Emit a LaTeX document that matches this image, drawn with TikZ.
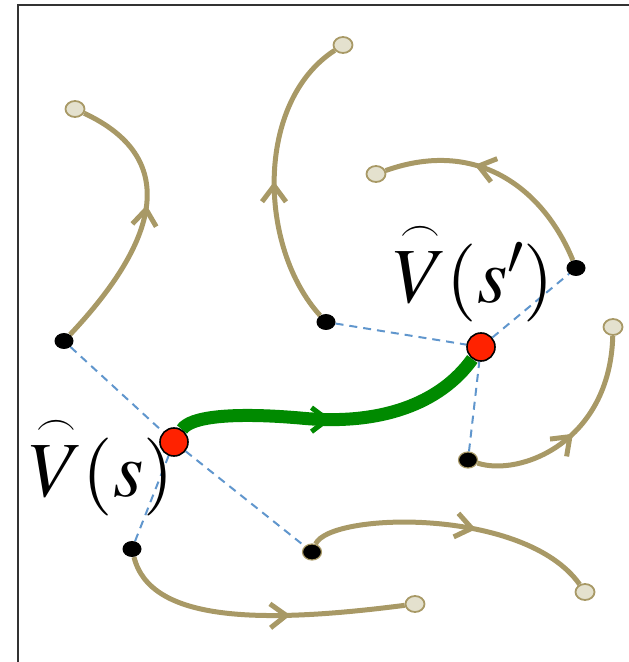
\documentclass[tikz,border=0pt]{standalone}
\usepackage{amsmath}
\usepackage{graphicx}
\usepackage{mathptmx}
\usetikzlibrary{arrows.meta, decorations.markings, shapes.geometric, backgrounds}
\definecolor{trajcol}{RGB}{168,153,102}
\definecolor{endcol}{RGB}{228,225,206}
\definecolor{valred}{RGB}{255,34,0}
\definecolor{valgreen}{RGB}{0,138,0}
\definecolor{linkcol}{RGB}{96,150,205}
\newcommand{\arcV}{\overset{\raisebox{-5pt}{\scalebox{0.85}{$\scriptscriptstyle\frown$}}}{V}}
\tikzset{
  visited/.style={ellipse, fill=black, minimum width=19pt, minimum height=16pt, inner sep=0pt},
  rimmed/.style={visited, draw=trajcol, line width=1.2pt},
  endstate/.style={ellipse, fill=endcol, draw=trajcol, line width=1.8pt, minimum width=19pt, minimum height=16pt, inner sep=0pt},
  valstate/.style={circle, fill=valred, draw=black, line width=1.6pt, minimum size=28pt, inner sep=0pt},
  dashlink/.style={linkcol, line width=2pt, dash pattern=on 8pt off 6pt},
  trajline/.style={trajcol, line width=5pt},
  bestpath/.style={valgreen, line width=13pt},
  midarrow/.style={postaction={decorate, decoration={markings,
      mark=at position #1 with {\arrow{Straight Barb[length=16pt, width=24pt, line width=5pt]}}}}},
  vlabel/.style={anchor=base west, inner sep=0pt, font=\fontsize{78}{80}\selectfont}
}

\begin{document}
\begin{tikzpicture}[x=1pt, y=1pt]
    \useasboundingbox (0,0) rectangle (629,662);
    \draw[black!80, line width=1.5pt] (18,0) -- (18,657) -- (629,657);

    % sampled states
    \node[visited] (b1) at (64,321) {};
    \node[visited] (b2) at (326,340) {};
    \node[visited] (b3) at (576,394) {};
    \node[rimmed]  (b4) at (468,202) {};
    \node[rimmed]  (b5) at (312,110) {};
    \node[visited] (b6) at (132,113) {};
    \node[endstate] (e1) at (75,553) {};
    \node[endstate] (e2) at (343,617) {};
    \node[endstate] (e3) at (376,488) {};
    \node[endstate] (e4) at (613,335) {};
    \node[endstate] (e5) at (415,58) {};
    \node[endstate] (e6) at (585,70) {};
    \node[valstate] (r1) at (174,220) {};
    \node[valstate] (r2) at (481,315) {};
    \coordinate (gmid) at (300,244);

    \node[vlabel] (vs) at (29,165) {$\arcV(s)$};
    \node[vlabel] (vsp) at (393,359) {$\arcV(s')$};

    \begin{scope}[on background layer]
        \draw[dashlink] (b1) -- (r1) -- (b5);
        \draw[dashlink] (b6) -- (r1);
        \draw[dashlink] (b2) -- (r2) -- (b3);
        \draw[dashlink] (b4) -- (r2);
        % trajectories
        \draw[trajline, midarrow=0.56] (b1) .. controls (162,425) and (178,505) .. (e1);
        \draw[trajline, midarrow=0.49] (b2) .. controls (258,415) and (255,560) .. (e2);
        \draw[trajline, midarrow=0.61] (b3) .. controls (545,470) and (480,525) .. (e3);
        \draw[trajline, midarrow=0.49] (b4) .. controls (520,185) and (610,220) .. (e4);
        \draw[trajline, midarrow=0.58] (b5) .. controls (330,150) and (525,155) .. (e6);
        \draw[trajline, midarrow=0.61] (b6) .. controls (150,40) and (260,38) .. (e5);
        \draw[bestpath, midarrow=0.49] (r1) .. controls (190,245) and (230,250) .. (gmid)
            .. controls (380,236) and (440,258) .. (r2);
    \end{scope}
\end{tikzpicture}
\end{document}
